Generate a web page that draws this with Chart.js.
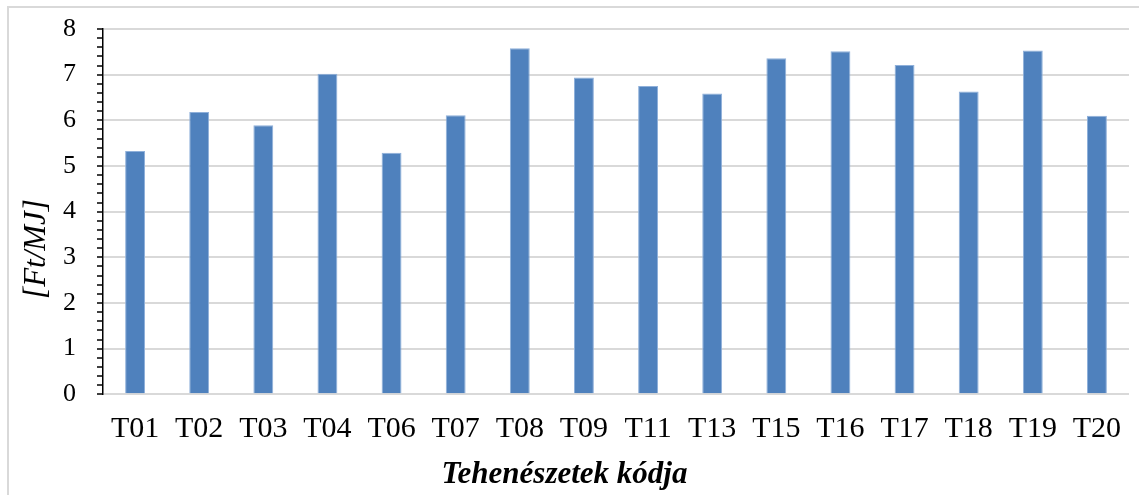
<!DOCTYPE html>
<html>
<head>
<meta charset="utf-8">
<script src="https://cdn.jsdelivr.net/npm/chart.js@4.4.1/dist/chart.umd.min.js"></script>
<style>
  html, body { margin: 0; padding: 0; background: #fff; overflow: hidden; }
  #wrap { position: relative; width: 1139px; height: 495px; }
  #frame { position: absolute; left: 7px; top: 6px; width: 1200px; height: 600px; border: 2px solid #d9d9d9; }
  #chart { position: absolute; left: 0; top: 0; }
</style>
</head>
<body>
<div id="wrap">
  <div id="frame"></div>
  <canvas id="chart" width="1139" height="495"></canvas>
</div>
<script>
const farmCodes = ["T01", "T02", "T03", "T04", "T06", "T07", "T08", "T09",
                   "T11", "T13", "T15", "T16", "T17", "T18", "T19", "T20"];
const costPerMJ = [5.33, 6.18, 5.89, 7.02, 5.29, 6.11, 7.58, 6.94,
                   6.75, 6.59, 7.36, 7.51, 7.21, 6.63, 7.53, 6.10];
const yMin = 0;
const yMax = 8;
const yMinorStep = 0.2;

const serif = "'Liberation Serif', 'Times New Roman', serif";
const isWhole = v => Math.abs(v - Math.round(v)) < 1e-6;

// the rotated unit label on the left takes lineHeight + top padding
const unitFontSize = 31;
const unitPad = 18;
const plotLeft = 103;

new Chart(document.getElementById("chart"), {
  type: "bar",
  data: {
    labels: farmCodes,
    datasets: [{
      data: costPerMJ,
      backgroundColor: "#4f81bd",
      borderColor: "#8fb0da",
      borderWidth: 1,
      barPercentage: 0.31,
      categoryPercentage: 1
    }]
  },
  options: {
    responsive: false,
    animation: false,
    layout: { padding: { top: 3, right: 10, left: 0, bottom: 0 } },
    plugins: {
      legend: { display: false },
      tooltip: { enabled: false },
      title: {
        display: true,
        position: "bottom",
        text: "Tehenészetek kódja",
        color: "#000",
        font: { family: serif, size: 31, style: "italic", weight: "bold" },
        padding: { top: 0, bottom: 1 }
      },
      subtitle: {
        display: true,
        position: "left",
        text: "[Ft/MJ]",
        color: "#000",
        font: { family: serif, size: unitFontSize, style: "italic", weight: "normal" },
        padding: { top: unitPad, bottom: 0 }
      }
    },
    scales: {
      x: {
        grid: { display: false, drawTicks: false },
        border: { display: false },
        ticks: {
          color: "#000",
          padding: 17,
          font: { family: serif, size: 30 }
        },
        afterFit: scale => { scale.height = 62.5; }
      },
      y: {
        min: yMin,
        max: yMax,
        grid: {
          color: ctx => isWhole(ctx.tick.value) ? "#d9d9d9" : "rgba(0,0,0,0)",
          lineWidth: 2,
          tickColor: "#000",
          tickLength: 6,
          tickWidth: 1.5
        },
        border: { color: "#000", width: 1.5 },
        ticks: {
          stepSize: yMinorStep,
          autoSkip: false,
          color: "#000",
          padding: 21,
          font: { family: serif, size: 26 },
          callback: v => isWhole(v) ? Math.round(v) : ""
        },
        afterFit: scale => {
          scale.width = plotLeft - (unitFontSize * 1.2 + unitPad);
          scale.paddingTop = 29;
        }
      }
    }
  }
});
</script>
</body>
</html>
